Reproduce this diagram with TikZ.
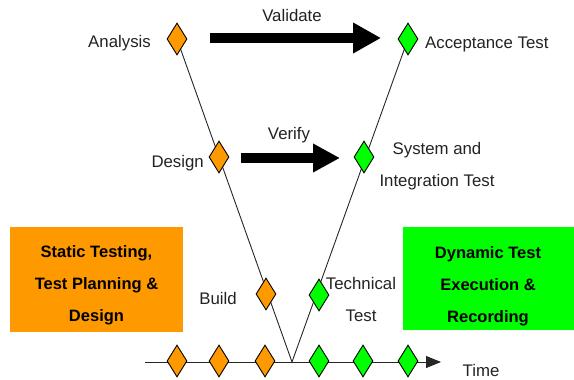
\documentclass[tikz,border=0pt]{standalone}
\usepackage{fontspec}
\setmainfont{Liberation Sans}
\usetikzlibrary{shapes.geometric,arrows.meta}
\definecolor{vorange}{HTML}{FF9900}
\definecolor{vgreen}{HTML}{00FF00}
\definecolor{vtext}{HTML}{222222}
\begin{document}
\begin{tikzpicture}[x=1pt,y=-1pt,
  gem/.style={diamond,draw=black,line width=0.9pt,inner sep=0pt,minimum width=20pt,minimum height=32pt},
  gemL/.style={gem,fill=vorange},
  gemR/.style={gem,fill=vgreen},
  lbl/.style={inner sep=0pt,text=vtext,font=\fontsize{16.8}{32}\selectfont},
  phase/.style={inner sep=0pt,align=center,text=black,font=\fontsize{16.5}{32}\selectfont\bfseries},
  vline/.style={line width=0.9pt,draw=black!85},
  bigarrow/.style={draw=black,line width=9.5pt,-{Triangle[length=28pt,width=29pt]}},
  midarrow/.style={draw=black,line width=9.5pt,-{Triangle[length=27pt,width=27pt]}}]
\useasboundingbox (0,0) rectangle (574,380);

% phase boxes
\node[fill=vorange,minimum width=173pt,minimum height=105pt,inner sep=0pt] (static) at (96.5,279.5) {};
\node[phase] at (96.5,285) {Static Testing,\\Test Planning \&\\Design};
\node[fill=vgreen,minimum width=171pt,minimum height=103pt,inner sep=0pt] (dynamic) at (488.5,278.5) {};
\node[phase] at (488,286) {Dynamic Test\\Execution \&\\Recording};

% V-model arms and time axis
\coordinate (apex) at (292,362);
\coordinate (tstart) at (145,362);
\coordinate (tend) at (441,362);
\draw[vline] (177,39) -- (apex) -- (408,39);
\draw[vline,-{Triangle[length=15pt,width=12pt]}] (tstart) -- (tend);

% milestones on the V
\node[gemL] (analysis) at (177,39) {};
\node[gemL] (design) at (219,157) {};
\node[gemL] (build) at (266,294) {};
\node[gemR] (accept) at (408,39) {};
\node[gemR] (system) at (364,157) {};
\node[gemR] (technical) at (319,295) {};

% milestones on the time axis
\node[gemL] (t1) at (177,361) {};
\node[gemL] (t2) at (219,361) {};
\node[gemL] (t3) at (265,361) {};
\node[gemR] (t4) at (319,361) {};
\node[gemR] (t5) at (363,361) {};
\node[gemR] (t6) at (408,361) {};

% validate / verify arrows
\coordinate (va) at (210,38);
\coordinate (vb) at (381,38);
\coordinate (ra) at (241,158);
\coordinate (rb) at (340,158);
\draw[bigarrow] (va) -- (vb);
\draw[midarrow] (ra) -- (rb);

% labels
\node[lbl] (lvalidate) at (292,15) {Validate};
\node[lbl] (lverify) at (289,135) {Verify};
\node[lbl,anchor=east] (lanalysis) at (151,43) {Analysis};
\node[lbl,anchor=west] (laccept) at (425,44) {Acceptance Test};
\node[lbl,anchor=east] (ldesign) at (204,163) {Design};
\node[lbl,align=center] (lsystem) at (437,166) {System and\\Integration Test};
\node[lbl] (lbuild) at (218,298) {Build};
\node[lbl,align=center] (ltech) at (361,299) {Technical\\Test};
\node[lbl] (ltime) at (481,370) {Time};
\end{tikzpicture}
\end{document}
